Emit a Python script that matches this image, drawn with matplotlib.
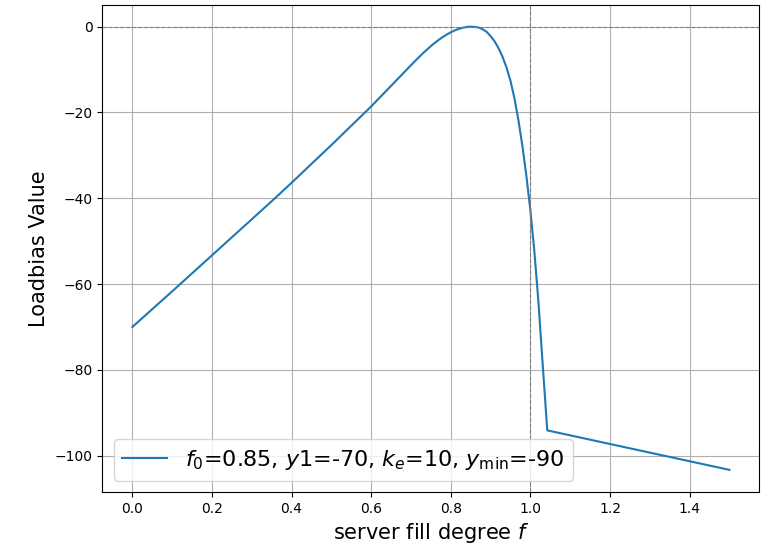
import numpy as np
import matplotlib
matplotlib.use("Agg")
import matplotlib.pyplot as plt

# Load-bias curve sampled along the server fill degree
fill_degree = [0.00, 0.05, 0.10, 0.15, 0.20, 0.25, 0.30, 0.35, 0.40, 0.45,
               0.50, 0.55, 0.60, 0.625, 0.65, 0.675, 0.70, 0.71, 0.72, 0.73,
               0.74, 0.75, 0.76, 0.77, 0.78, 0.79, 0.80, 0.81, 0.82, 0.83,
               0.84, 0.85, 0.86, 0.87, 0.88, 0.89, 0.90, 0.91, 0.92, 0.93,
               0.94, 0.95, 0.96, 0.97, 0.98, 0.99, 1.00, 1.01, 1.02, 1.03,
               1.0425, 1.50]
loadbias = [-70.0, -65.85, -61.7, -57.5, -53.3, -49.1, -44.9, -40.7, -36.4, -32.0,
            -27.6, -23.1, -18.6, -16.2, -13.8, -11.4, -9.0, -8.05, -7.12, -6.22,
            -5.36, -4.54, -3.77, -3.06, -2.41, -1.83, -1.32, -0.88, -0.53, -0.26,
            -0.08, 0.0, -0.05, -0.2, -0.6, -1.2, -2.2, -3.4, -5.0, -7.0,
            -9.5, -12.6, -16.7, -21.8, -27.8, -34.8, -42.8, -52.3, -63.8, -77.4,
            -94.1, -103.3]

label = r"$f_0$=0.85, $y1$=-70, $k_e$=10, $y_{\min}$=-90"

fig = plt.figure(figsize=(7.7, 5.49), dpi=100)
ax = fig.add_axes([0.1331, 0.1038, 0.986 - 0.1331, 0.9918 - 0.1038])

ax.plot(fill_degree, loadbias, color="#1f77b4", linewidth=1.5, label=label)
ax.axhline(0, color="gray", linestyle="--", linewidth=0.8)
ax.axvline(1.0, color="gray", linestyle="--", linewidth=0.8)

ax.grid(True)
ax.set_xlabel(r"server fill degree $f$", fontsize=15)
ax.set_ylabel("Loadbias Value", fontsize=15)
ax.legend(loc="lower left", fontsize=16)

fig.savefig("out.png", dpi=100)
